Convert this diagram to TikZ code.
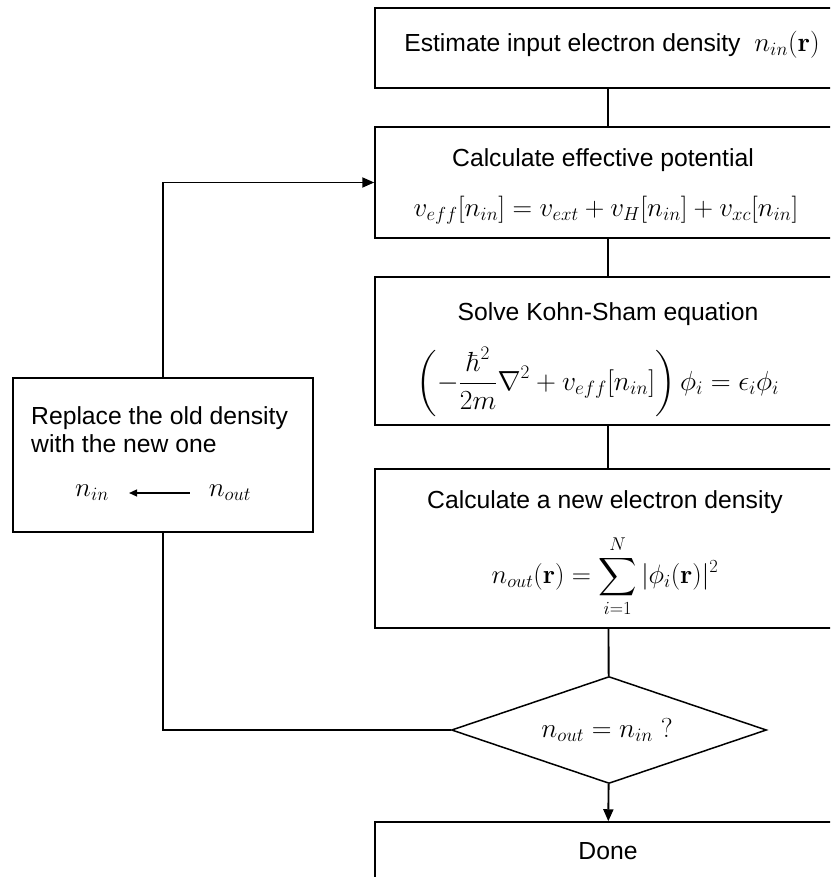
\documentclass[tikz,border=0pt]{standalone}
\usepackage{amsmath}
\usepackage{graphicx}
\usepackage[no-math]{fontspec}
\setmainfont{Liberation Sans}
\usetikzlibrary{shapes.geometric,arrows.meta}
\newcommand{\mscl}[2][1.09]{\scalebox{#1}{#2}}
\begin{document}
\begin{tikzpicture}[x=1pt,y=-1pt,
  box/.style={draw,line width=1.5pt,minimum width=466pt,inner sep=0pt},
  conn/.style={line width=1.9pt},
  arr/.style={line width=1.9pt,-{Triangle[length=12pt,width=10pt]}},
  lbl/.style={font=\fontsize{24.7}{28}\selectfont,inner sep=0pt},
]
\useasboundingbox (0,0) rectangle (830,877);
\clip (0,0) rectangle (830,877);

% boxes
\node[box,minimum height=80pt] (b1) at (608,48) {};
\node[box,minimum height=111pt] (b2) at (608,182.5) {};
\node[box,minimum height=148pt] (b3) at (608,351) {};
\node[box,minimum height=159pt] (b4) at (608,548.5) {};
\node[draw,diamond,line width=1.5pt,aspect=2.94,minimum width=315pt,minimum height=107pt,inner sep=0pt] (dm) at (609,730) {};
\node[box,minimum height=76pt] (done) at (608,860) {};
\node[box,minimum width=300pt,minimum height=154pt] (lb) at (163,455) {};

% texts
\node[lbl] (t1) at (612,45) {Estimate input electron density\ \ \mscl{$n_{in}(\mathbf{r})$}};
\node[lbl] (t2a) at (603,160) {Calculate effective potential};
\node[lbl] (t2b) at (606,210) {\mscl{$v_{eff}[n_{in}] = v_{ext} + v_H[n_{in}] + v_{xc}[n_{in}]$}};
\node[lbl] (t3a) at (608,314) {Solve Kohn-Sham equation};
\node[lbl] (t3b) at (598,382) {\mscl[1.11]{$\displaystyle\left(-\frac{\hbar^2}{2m}\nabla^2 + v_{eff}[n_{in}]\right)\phi_i = \epsilon_i\phi_i$}};
\node[lbl] (t4a) at (605,502) {Calculate a new electron density};
\node[lbl] (t4b) at (605,576) {\mscl[1.07]{$\displaystyle n_{out}(\mathbf{r}) = \sum_{i=1}^{N}|\phi_i(\mathbf{r})|^2$}};
\node[lbl] (dt) at (607,730) {\mscl[1.1]{$n_{out} = n_{in}\;?$}};
\node[lbl] (t5) at (608,851) {Done};
\node[lbl,align=left,anchor=north west] (lt) at (31,406) {Replace the old density\\with the new one};
\node[lbl] (nin) at (92,493) {\mscl{$n_{in}$}};
\node[lbl] (nout) at (230,493) {\mscl{$n_{out}$}};
\draw[line width=1.4pt,-{Triangle[length=8pt,width=7pt]},shorten >=20pt,shorten <=19pt] (nout.west) -- (nin.east);

% connectors
\draw[conn] (b1) -- (b2);
\draw[conn] (b2) -- (b3);
\draw[conn] (b3) -- (b4);
\draw[conn] (b4) -- (dm);
\draw[arr] (dm) -- (done);
\draw[conn] (dm.west) -| (lb.south);
\draw[arr] (lb.north) |- (b2.west);
\end{tikzpicture}
\end{document}
